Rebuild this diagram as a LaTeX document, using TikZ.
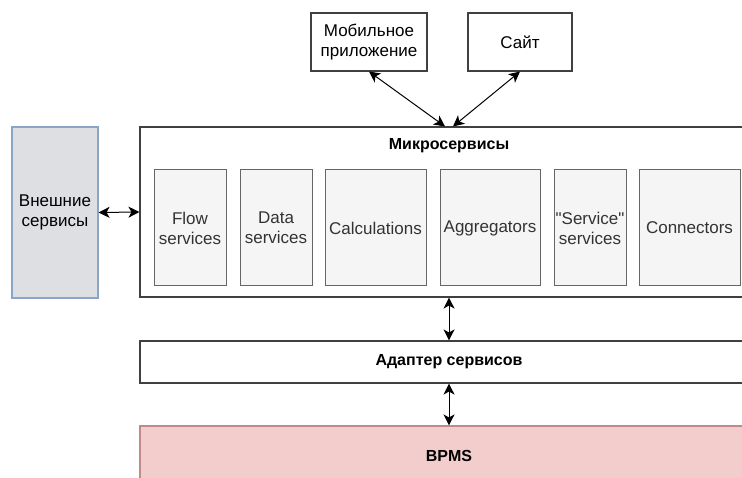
\documentclass[tikz,border=0pt]{standalone}
\usepackage{fontspec}
\setmainfont{Liberation Sans}[Ligatures=TeXOff]
\usepackage{tikz}
\usetikzlibrary{arrows.meta,shapes,backgrounds,positioning}
\definecolor{svcfill}{HTML}{F5F5F5}
\definecolor{svcline}{HTML}{666666}
\definecolor{svctext}{HTML}{333333}
\definecolor{extfill}{HTML}{DDDFE3}
\definecolor{extline}{HTML}{8AA5C8}
\definecolor{bpmsfill}{HTML}{F2CDCB}
\definecolor{bpmsline}{HTML}{C08A88}
\tikzstyle{blk}=[rectangle, draw=black!75, line width=1.1pt, inner sep=0pt, align=center, font=\fontsize{17}{20}\selectfont]
\tikzstyle{svc}=[rectangle, draw=svcline, fill=svcfill, text=svctext, line width=1pt, inner sep=0pt, minimum height=116pt, align=center, font=\fontsize{17}{20}\selectfont]
\tikzstyle{ttl}=[font=\bfseries\fontsize{16}{20}\selectfont]
\tikzstyle{link}=[{Stealth[length=11pt,width=11pt,inset=3pt]}-{Stealth[length=11pt,width=11pt,inset=3pt]}, line width=1pt]

\begin{document}
\begin{tikzpicture}[x=1pt,y=-1pt]
          %
          \clip (0,0) rectangle (742,478);
          \fill[white] (0,0) rectangle (742,478);
          \node at (369,42) [blk, minimum width=116pt, minimum height=58pt] (mob) {Мобильное\\приложение};
          \node at (520,42) [blk, minimum width=104pt, minimum height=58pt] (site) {Сайт};
          \node at (449,212) [blk, minimum width=618pt, minimum height=170pt] (micro) {};
          \node at (449,146) [ttl] (mtitle) {Микросервисы};
          \node at (55,212.5) [blk, draw=extline, fill=extfill, minimum width=86pt, minimum height=171pt] (ext) {Внешние\\сервисы};
          % 
          \node at (190,228) [svc, minimum width=72pt] (flow) {Flow\\services};
          \node at (276,228) [svc, minimum width=72pt] (data) {Data\\services};
          \node at (375.5,228) [svc, minimum width=101pt] (calc) {Calculations};
          \node at (490,228) [svc, minimum width=100pt] (aggr) {Aggregators};
          \node at (590,228) [svc, minimum width=72pt] (serv) {"Service"\\services};
          \node at (689.5,228) [svc, minimum width=101pt] (conn) {Connectors};
          % 
          \node at (449,362) [blk, minimum width=618pt, minimum height=42pt] (adapter) {};
          \node at (449,362) [ttl] (atitle) {Адаптер сервисов};
          \node at (449,458) [blk, draw=bpmsline, fill=bpmsfill, minimum width=618pt, minimum height=64pt] (bpms) {};
          \node at (449,456) [ttl] (btitle) {BPMS};
          % 
          \draw[link] (mob.south) -- ([xshift=-4pt]micro.north);
          \draw[link] (site.south) -- ([xshift=4pt]micro.north);
          \draw[link] (ext.east) -- (micro.west);
          \draw[link] (micro.south) -- (adapter.north);
          \draw[link] (adapter.south) -- (bpms.north);
          %
        \end{tikzpicture}
\end{document}
